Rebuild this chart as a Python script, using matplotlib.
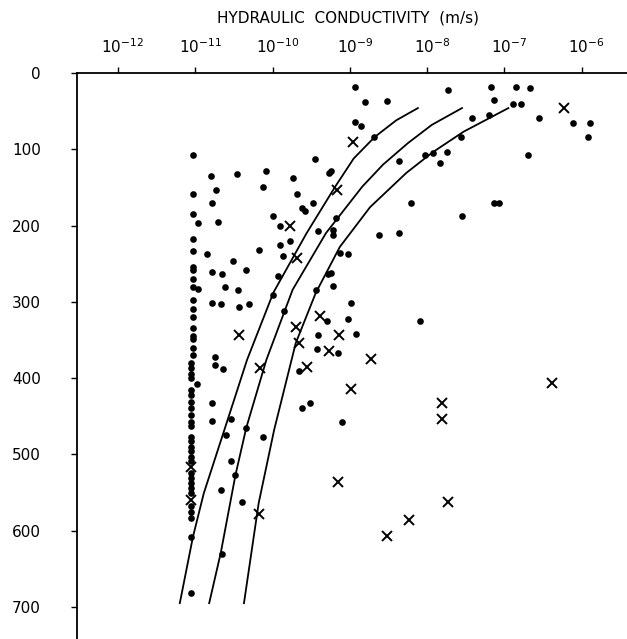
import numpy as np
import matplotlib.pyplot as plt
import matplotlib.transforms as mtransforms

# log10 of hydraulic conductivity (m/s) and depth (m), single-packer tests
dot_logk = [
    # tests at the 1e-11 measurement limit
    -11.03, -11.03, -11.03, -11.03, -11.03, -11.03, -11.03, -11.03, -11.03,
    -11.03, -11.03, -11.03, -11.03, -11.03, -11.03, -11.03, -11.03,
    -11.05, -11.05, -11.05, -11.05, -11.05, -11.05, -11.05, -11.05, -11.05,
    -11.05, -11.05, -11.05, -11.05, -11.05, -11.05, -11.05, -11.05, -11.05,
    -11.05, -11.05, -11.05, -11.05, -11.05, -11.05, -11.05, -11.05, -11.05,
    -10.96, -10.96, -10.98,
    # low-conductivity group
    -10.80, -10.46, -10.09, -10.73, -10.13, -10.79, -10.70, -10.85, -10.17,
    -10.51, -10.34, -10.79, -10.65, -10.61, -10.45, -10.78, -10.67, -10.43,
    -10.30, -10.75, -10.75, -10.64, -10.79, -10.79, -10.54, -10.60, -10.34,
    -10.12, -10.54, -10.48, -10.67, -10.40, -10.65,
    # middle group
    -8.93, -8.80, -8.52, -8.93, -8.85, -8.69, -7.73, -8.37, -8.03, -7.93,
    -7.84, -7.75, -9.45, -9.27, -9.24, -9.74, -9.69, -8.21, -9.62, -9.58,
    -9.48, -10.00, -9.90, -9.18, -9.41, -9.22, -9.22, -8.62, -8.36, -9.78,
    -9.90, -9.86, -9.13, -9.03, -9.28, -9.24, -9.93, -9.22, -9.99, -9.44,
    -9.85, -8.98, -9.30, -9.03, -8.09, -9.41, -8.92, -9.42, -9.16, -9.66,
    -9.51, -9.62, -9.10,
    # high-conductivity group near surface
    -7.17, -6.85, -6.67, -7.14, -6.89, -6.79, -7.42, -7.20, -6.55, -6.12,
    -5.90, -5.92, -7.56, -6.69, -7.14, -7.07, -7.55,
]
dot_depth = [
    108, 159, 185, 217, 233, 254, 258, 270, 280,
    298, 310, 320, 334, 345, 349, 361, 370,
    380, 387, 394, 400, 415, 422, 431, 439, 448,
    457, 463, 477, 483, 490, 496, 503, 509, 525,
    531, 538, 544, 551, 568, 575, 584, 608, 682,
    196, 283, 408,
    135, 133, 128, 153, 150, 170, 195, 237, 232,
    246, 258, 261, 263, 280, 285, 302, 303, 307,
    303, 372, 383, 388, 432, 456, 453, 474, 466,
    477, 508, 527, 547, 562, 630,
    19, 38, 37, 64, 70, 84, 22, 115, 108, 105,
    118, 103, 113, 131, 128, 137, 159, 170, 177, 181,
    170, 187, 200, 190, 207, 206, 212, 213, 210, 220,
    226, 240, 236, 237, 263, 262, 266, 279, 291, 285,
    312, 301, 325, 323, 325, 343, 342, 362, 367, 391,
    432, 439, 457,
    19, 19, 20, 35, 41, 40, 59, 55, 59, 65,
    65, 84, 84, 107, 170, 170, 188,
]

# double-packer tests
cross_logk = [
    -11.05, -11.05, -10.43, -10.16, -10.17, -8.96, -9.17, -9.78, -9.69,
    -9.39, -9.70, -9.14, -9.66, -9.27, -8.73, -9.56, -8.99, -9.16, -8.24,
    -8.52, -7.81, -7.81, -7.73, -6.23, -6.38,
]
cross_depth = [
    516, 560, 343, 387, 578, 90, 154, 201, 242,
    319, 333, 343, 354, 364, 375, 386, 414, 536, 586,
    607, 432, 453, 563, 46, 407,
]

# trend curves
c1_depth = [46, 62, 84, 112, 149, 210, 288, 376, 448, 551, 608, 695]
c1_logk = [-8.12, -8.40, -8.68, -8.95, -9.19, -9.56, -9.99, -10.33, -10.56, -10.89, -11.03, -11.20]
c2_depth = [46, 68, 92, 120, 149, 210, 284, 376, 465, 527, 629, 695]
c2_logk = [-7.55, -7.94, -8.25, -8.57, -8.84, -9.31, -9.74, -10.08, -10.34, -10.48, -10.67, -10.82]
c3_depth = [46, 77, 104, 131, 176, 228, 288, 354, 468, 564, 695]
c3_logk = [-6.95, -7.53, -7.93, -8.27, -8.74, -9.13, -9.44, -9.70, -9.98, -10.18, -10.37]

decades = [-12, -11, -10, -9, -8, -7, -6]
depth_ticks = [0, 100, 200, 300, 400, 500, 600, 700]

fig = plt.figure(figsize=(6.27, 6.39), dpi=100)
ax = fig.add_axes([77 / 627, 0, 550 / 627, 566 / 639])

for d, k in [(c1_depth, c1_logk), (c2_depth, c2_logk), (c3_depth, c3_logk)]:
    ax.plot(10.0 ** np.array(k), d, color='black', lw=1.3)

ax.plot(10.0 ** np.array(dot_logk), dot_depth, 'o', color='black', ms=4.8, mew=0)
ax.plot(10.0 ** np.array(cross_logk), cross_depth, 'x', color='black', ms=6.5, mew=1.4)

ax.set_xscale('log')
ax.set_xlim(10 ** -12.53, 10 ** -5.415)
ax.set_ylim(742, 0)

ax.xaxis.tick_top()
ax.set_xticks([10.0 ** e for e in decades])
ax.set_xticklabels([r'$10^{%d}$' % e for e in decades])
ax.xaxis.set_minor_locator(plt.NullLocator())
ax.set_yticks(depth_ticks)
ax.set_yticklabels([str(v) for v in depth_ticks])

ax.tick_params(axis='x', which='major', direction='out', length=4, width=1,
               labelsize=11, pad=8)
ax.tick_params(axis='y', direction='out', length=4, width=1,
               labelsize=11, pad=22)

# nudge the decade labels so the base "10" sits over its tick
shift = mtransforms.ScaledTranslation(5 / 100, 0, fig.dpi_scale_trans)
for lab in ax.get_xticklabels():
    lab.set_transform(lab.get_transform() + shift)

for side in ['right', 'bottom']:
    ax.spines[side].set_visible(False)
for side in ['top', 'left']:
    ax.spines[side].set_linewidth(1.3)

fig.text(0.555, 0.972, 'HYDRAULIC  CONDUCTIVITY  (m/s)', ha='center', va='center',
         fontsize=11)

fig.savefig('out.png', dpi=100)
